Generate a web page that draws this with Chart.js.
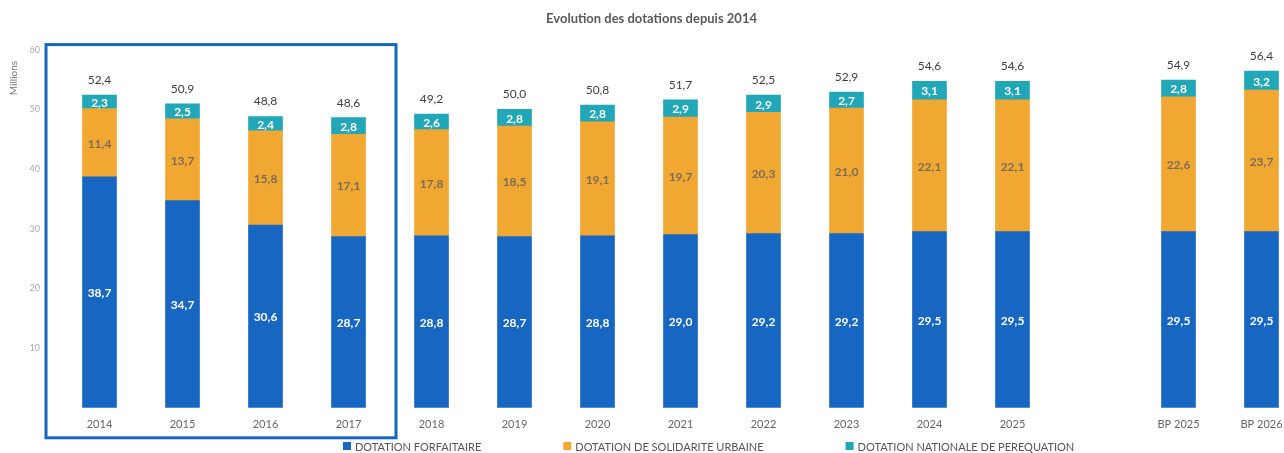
<!DOCTYPE html>
<html lang="fr">
<head>
<meta charset="utf-8">
<title>Evolution des dotations depuis 2014</title>
<script src="https://cdn.jsdelivr.net/npm/chart.js@4.4.1/dist/chart.umd.min.js"></script>
<style>
  html, body { margin: 0; padding: 0; background: #fff; overflow: hidden; }
  #wrap { width: 1310px; height: 453px; position: relative; }
</style>
</head>
<body>
<div id="wrap"><canvas id="myChart"></canvas></div>
<script>
// Données du graphique (en millions)
const categories = ['2014', '2015', '2016', '2017', '2018', '2019', '2020', '2021', '2022', '2023', '2024', '2025', '', 'BP 2025', 'BP 2026'];
const forfaitaire = [38.7, 34.7, 30.6, 28.7, 28.8, 28.7, 28.8, 29.0, 29.2, 29.2, 29.5, 29.5, null, 29.5, 29.5];
const solidarite = [11.4, 13.7, 15.8, 17.1, 17.8, 18.5, 19.1, 19.7, 20.3, 21.0, 22.1, 22.1, null, 22.6, 23.7];
const perequation = [2.3, 2.5, 2.4, 2.8, 2.6, 2.8, 2.8, 2.9, 2.9, 2.7, 3.1, 3.1, null, 2.8, 3.2];
const totals = [52.4, 50.9, 48.8, 48.6, 49.2, 50.0, 50.8, 51.7, 52.5, 52.9, 54.6, 54.6, null, 54.9, 56.4];
const yTicks = [0, 10, 20, 30, 40, 50, 60];

const fmt = v => v.toFixed(1).replace('.', ',');

// Étiquettes de valeurs, total au-dessus, cadre bleu, légende et "Millions"
const labelsPlugin = {
    id: 'labelsPlugin',
    afterDatasetsDraw(chart) {
        const ctx = chart.ctx;
        const colors = ['#ffffff', '#7d6c55', '#ffffff'];
        ctx.save();
        ctx.textAlign = 'center';
        ctx.textBaseline = 'middle';
        chart.data.datasets.forEach((ds, i) => {
            const meta = chart.getDatasetMeta(i);
            ctx.font = 'bold 12px Lato';
            ctx.fillStyle = colors[i];
            meta.data.forEach((bar, j) => {
                const v = ds.data[j];
                if (v == null) return;
                ctx.fillText(fmt(v), bar.x, (bar.y + bar.base) / 2 + 1);
            });
        });
        const top = chart.getDatasetMeta(2);
        ctx.font = '12px Lato';
        ctx.fillStyle = '#404040';
        top.data.forEach((bar, j) => {
            if (totals[j] == null) return;
            ctx.fillText(fmt(totals[j]), bar.x, bar.y - 15);
        });

        // cadre autour de 2014-2017
        const x = chart.scales.x, y = chart.scales.y;
        const step = x.getPixelForValue(1) - x.getPixelForValue(0);
        const left = chart.chartArea.left - 12;
        const right = x.getPixelForValue(3) + step / 2 + 6;
        const t = y.getPixelForValue(60) - 5;
        const b = chart.chartArea.bottom + 30;
        ctx.strokeStyle = '#1466be';
        ctx.lineWidth = 3;
        ctx.strokeRect(left, t, right - left, b - t);

        // légende
        ctx.textAlign = 'left';
        ctx.font = '11px Lato';
        let lx = 343;
        const ly = chart.height - 7;
        chart.data.datasets.forEach(ds => {
            ctx.fillStyle = ds.backgroundColor;
            ctx.fillRect(lx, ly - 4, 8, 8);
            ctx.fillStyle = '#555555';
            ctx.fillText(ds.label, lx + 12, ly + 1);
            lx += 12 + ctx.measureText(ds.label).width + 82;
        });

        // unité
        ctx.textAlign = 'center';
        ctx.translate(14, 78);
        ctx.rotate(-Math.PI / 2);
        ctx.font = '10px Lato';
        ctx.fillStyle = '#777777';
        ctx.fillText('Millions', 0, 0);
        ctx.restore();
    }
};

const data = {
    labels: categories,
    datasets: [{
        label: 'DOTATION FORFAITAIRE',
        data: forfaitaire,
        backgroundColor: '#1766c2'
    }, {
        label: 'DOTATION DE SOLIDARITE URBAINE',
        data: solidarite,
        backgroundColor: '#f0a832'
    }, {
        label: 'DOTATION NATIONALE DE PEREQUATION',
        data: perequation,
        backgroundColor: '#22a7b8'
    }]
};

const options = {
    responsive: true,
    maintainAspectRatio: false,
    animation: false,
    layout: { padding: { left: 0, right: 7, top: 0, bottom: 20 } },
    datasets: { bar: { barThickness: 34 } },
    plugins: {
        title: {
            display: true,
            text: 'Evolution des dotations depuis 2014',
            color: '#595959',
            font: { family: 'Lato', size: 13, weight: 'bold' },
            padding: { top: 11, bottom: 23 }
        },
        legend: { display: false },
        tooltip: { enabled: false }
    },
    scales: {
        x: {
            stacked: true,
            grid: { display: false },
            border: { display: false },
            ticks: { color: '#666666', font: { family: 'Lato', size: 11 }, maxRotation: 0, autoSkip: false, padding: 2 }
        },
        y: {
            stacked: true,
            min: yTicks[0],
            max: yTicks[yTicks.length - 1],
            afterFit(scale) { scale.width = 58; },
            afterBuildTicks(scale) { scale.ticks = yTicks.map(v => ({ value: v })); },
            grid: { display: false },
            border: { display: false },
            ticks: {
                color: '#aaaaaa',
                font: { family: 'Lato', size: 9 },
                padding: 10,
                callback: v => v === 0 ? '' : v
            }
        }
    }
};

const ctx = document.getElementById('myChart').getContext('2d');
const myChart = new Chart(ctx, {
    type: 'bar',
    data: data,
    options: options,
    plugins: [labelsPlugin]
});
</script>
</body>
</html>
